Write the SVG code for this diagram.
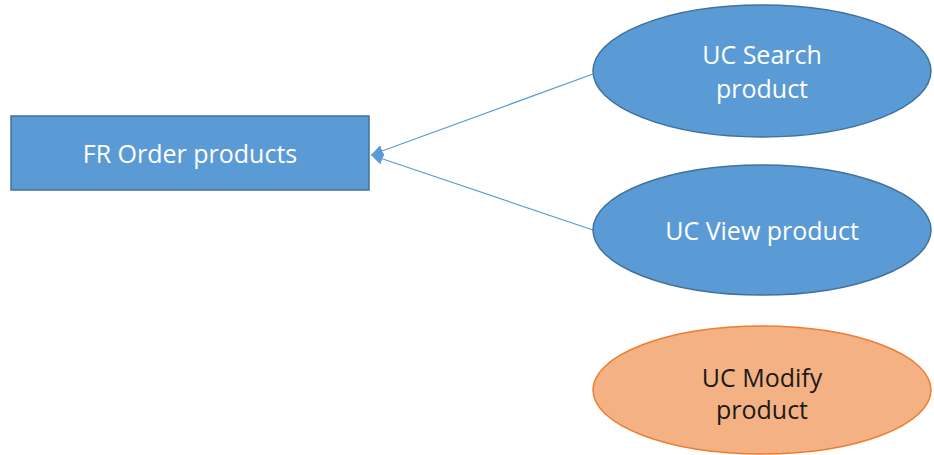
<svg xmlns="http://www.w3.org/2000/svg" width="934" height="455" viewBox="0 0 934 455">
<style>
.blue{fill:#5B9BD5;stroke:#41719C;stroke-width:1.5}
.orange{fill:#F4B183;stroke:#ED7D31;stroke-width:1.5}
.t{font-family:"Open Sans","Liberation Sans",sans-serif;font-size:25px;text-anchor:middle}
.w{fill:#ffffff}
.k{fill:#1a1a1a}
.c{stroke:#5B9BD5;stroke-width:1.2;fill:none}
</style>
<defs>
<marker id="arr" viewBox="0 0 10 10" refX="10" refY="5" markerWidth="12" markerHeight="12" markerUnits="userSpaceOnUse" orient="auto">
<path d="M0,0 L10,5 L0,10 Z" fill="#5B9BD5"/>
</marker>
</defs>
<g id="connectors">
<line class="c" x1="593" y1="74" x2="371" y2="155" marker-end="url(#arr)"/>
<line class="c" x1="593" y1="230" x2="371" y2="155" marker-end="url(#arr)"/>
</g>
<g id="fr-order">
<rect class="blue" x="11" y="116" width="358" height="74"/>
<text class="t w" x="190" y="163">FR Order products</text>
</g>
<g id="uc-search">
<ellipse class="blue" cx="762" cy="71" rx="169" ry="66"/>
<text class="t w" x="762" y="64">UC Search</text>
<text class="t w" x="762" y="98">product</text>
</g>
<g id="uc-view">
<ellipse class="blue" cx="762" cy="230" rx="169" ry="65"/>
<text class="t w" x="762" y="240">UC View product</text>
</g>
<g id="uc-modify">
<ellipse class="orange" cx="762" cy="390" rx="169" ry="64"/>
<text class="t k" x="762" y="387">UC Modify</text>
<text class="t k" x="762" y="419">product</text>
</g>
</svg>
